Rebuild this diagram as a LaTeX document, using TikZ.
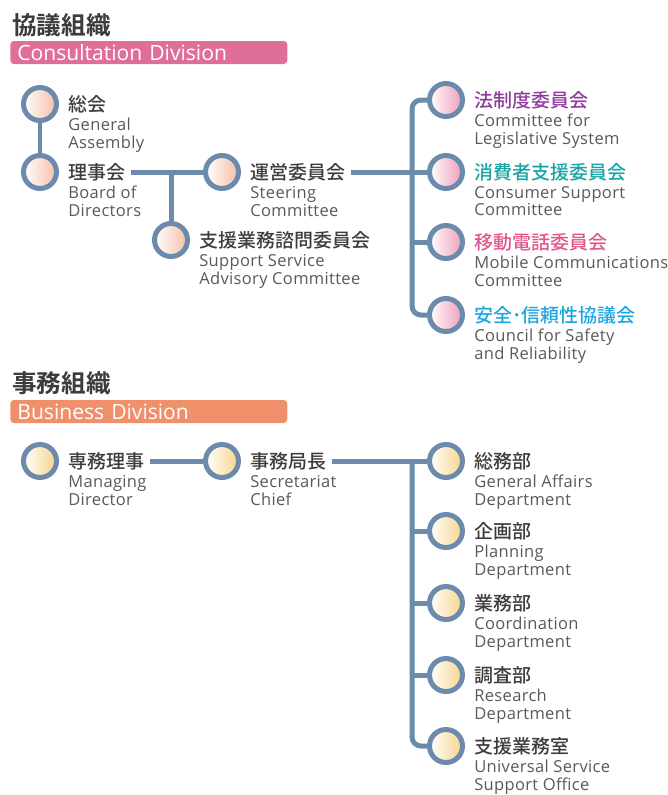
\documentclass[tikz,border=0pt]{standalone}
\usepackage{fontspec}
\setmainfont{Open Sans}[LetterSpace=2.0]
\newfontfamily\barfont{Open Sans}
\newfontfamily\jpfont{Noto Sans CJK JP Medium}
\newfontfamily\jpboldfont{Noto Sans CJK JP Bold}
\usetikzlibrary{positioning}

\definecolor{linkblue}{HTML}{6C8BAC}
\definecolor{engray}{HTML}{595959}
\definecolor{jpgray}{HTML}{3C3C3C}
\definecolor{consultpink}{HTML}{DF6F98}
\definecolor{bizorange}{HTML}{F0906A}
\definecolor{peach}{HTML}{F5BFA6}
\definecolor{rose}{HTML}{EE9DB8}
\definecolor{amber}{HTML}{F6D48C}
\definecolor{lawpurple}{HTML}{8E3C9C}
\definecolor{supteal}{HTML}{17A4A3}
\definecolor{mobpink}{HTML}{E2558C}
\definecolor{safecyan}{HTML}{1DA5DF}

\tikzset{
	ring/.style={circle, draw=linkblue, line width=0.1cm, minimum size=0.66cm, inner sep=0pt},
	peachring/.style={ring, left color=white, right color=peach},
	rosering/.style={ring, left color=white, right color=rose},
	amberring/.style={ring, left color=white, right color=amber},
	jplabel/.style={inner sep=0pt, text=jpgray, font=\jpfont\fontsize{10.8}{12}\selectfont},
	enlabel/.style={anchor=north west, inner sep=0pt, align=left, text=engray, font=\fontsize{9.4}{10.2}\selectfont},
	grouptitle/.style={anchor=west, inner sep=0pt, text=jpgray, font=\jpboldfont\fontsize{14}{16}\selectfont},
	groupbar/.style={anchor=west, rounded corners=0.07cm, minimum width=5.54cm, minimum height=0.46cm, inner xsep=0.14cm, inner ysep=0pt, text width=5.26cm, align=left, text=white, font=\barfont\fontsize{12}{13}\selectfont},
	link/.style={draw=linkblue, line width=0.1cm},
}

\begin{document}
\begin{tikzpicture}[x=0.02cm, y=-0.02cm]
	\useasboundingbox (0,0) rectangle (667,795);

	%Consultation Division
		\node[grouptitle] (ctitle) at (12,25) {協議組織};
		\node[groupbar, fill=consultpink] (cbar) at (10,52.5) {Consultation Division};

	%General Assembly / Board of Directors
		\node[peachring] (ga) at (40,104) {};
		\node[jplabel, right=0.18cm of ga] (gaj) {総会};
		\node[enlabel] (gae) at ([yshift=-0.09cm]gaj.south west) {General\\Assembly};
		\node[peachring] (bod) at (40,172) {};
		\node[jplabel, right=0.18cm of bod] (bodj) {理事会};
		\node[enlabel] (bode) at ([yshift=-0.09cm]bodj.south west) {Board of\\Directors};

	%Steering Committee / Advisory Committee
		\node[peachring] (steer) at (222,172) {};
		\node[jplabel, right=0.18cm of steer] (steerj) {運営委員会};
		\node[enlabel] (steere) at ([yshift=-0.09cm]steerj.south west) {Steering\\Committee};
		\node[peachring] (adv) at (171,240) {};
		\node[jplabel, right=0.18cm of adv] (advj) {支援業務諮問委員会};
		\node[enlabel] (adve) at ([yshift=-0.09cm]advj.south west) {Support Service\\Advisory Committee};

	%Committees
		\node[rosering] (law) at (446,100) {};
		\node[jplabel, text=lawpurple, right=0.18cm of law] (lawj) {法制度委員会};
		\node[enlabel] (lawe) at ([yshift=-0.09cm]lawj.south west) {Committee for\\Legislative System};
		\node[rosering] (cons) at (446,172) {};
		\node[jplabel, text=supteal, right=0.18cm of cons] (consj) {消費者支援委員会};
		\node[enlabel] (conse) at ([yshift=-0.09cm]consj.south west) {Consumer Support\\Committee};
		\node[rosering] (mob) at (446,242) {};
		\node[jplabel, text=mobpink, right=0.18cm of mob] (mobj) {移動電話委員会};
		\node[enlabel] (mobe) at ([yshift=-0.09cm]mobj.south west) {Mobile Communications\\Committee};
		\node[rosering] (safe) at (446,315) {};
		\node[jplabel, text=safecyan, right=0.18cm of safe] (safej) {安全･信頼性協議会};
		\node[enlabel] (safee) at ([yshift=-0.09cm]safej.south west) {Council for Safety\\and Reliability};

	%Consultation links
		\coordinate (ctop) at (412,100);
		\coordinate (cbot) at (412,315);
		\draw[link] (ga) -- (bod);
		\draw[link] ([xshift=0.1cm]bodj.east) -- (steer);
		\draw[link] (adv) -- (adv |- bodj.east);
		\draw[link] ([xshift=0.1cm]steerj.east) -- (cons);
		\draw[link, rounded corners=0.18cm] (law) -- (ctop) -- (cbot) -- (safe);
		\draw[link] (mob) -- (mob -| ctop);

	%Business Division
		\node[grouptitle] (btitle) at (12,383) {事務組織};
		\node[groupbar, fill=bizorange] (bbar) at (10,411.5) {Business Division};

	%Managing Director / Secretariat Chief
		\node[amberring] (md) at (40,461) {};
		\node[jplabel, right=0.18cm of md] (mdj) {専務理事};
		\node[enlabel] (mde) at ([yshift=-0.09cm]mdj.south west) {Managing\\Director};
		\node[amberring] (chief) at (222,461) {};
		\node[jplabel, right=0.18cm of chief] (chiefj) {事務局長};
		\node[enlabel] (chiefe) at ([yshift=-0.09cm]chiefj.south west) {Secretariat\\Chief};

	%Departments
		\node[amberring] (genaff) at (446,461) {};
		\node[jplabel, right=0.18cm of genaff] (genaffj) {総務部};
		\node[enlabel] (genaffe) at ([yshift=-0.09cm]genaffj.south west) {General Affairs\\Department};
		\node[amberring] (plan) at (446,531) {};
		\node[jplabel, right=0.18cm of plan] (planj) {企画部};
		\node[enlabel] (plane) at ([yshift=-0.09cm]planj.south west) {Planning\\Department};
		\node[amberring] (coord) at (446,603) {};
		\node[jplabel, right=0.18cm of coord] (coordj) {業務部};
		\node[enlabel] (coorde) at ([yshift=-0.09cm]coordj.south west) {Coordination\\Department};
		\node[amberring] (res) at (446,675) {};
		\node[jplabel, right=0.18cm of res] (resj) {調査部};
		\node[enlabel] (rese) at ([yshift=-0.09cm]resj.south west) {Research\\Department};
		\node[amberring] (office) at (446,746) {};
		\node[jplabel, right=0.18cm of office] (officej) {支援業務室};
		\node[enlabel] (officee) at ([yshift=-0.09cm]officej.south west) {Universal Service\\Support Office};

	%Business links
		\coordinate (btop) at (412,461);
		\draw[link] ([xshift=0.1cm]mdj.east) -- (chief);
		\draw[link] ([xshift=0.1cm]chiefj.east) -- (genaff);
		\draw[link, rounded corners=0.18cm] (btop) -- (btop |- office) -- (office);
		\foreach \dept in {plan, coord, res}
			\draw[link] (\dept) -- (\dept -| btop);
\end{tikzpicture}
\end{document}
